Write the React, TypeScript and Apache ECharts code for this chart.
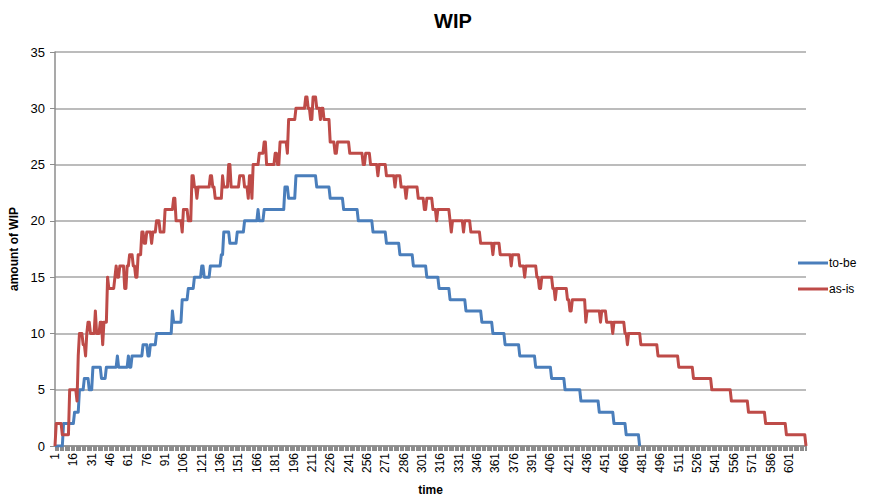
import React, { useEffect, useRef } from "react";
import * as echarts from "echarts";

// time index 1..615
const TIME_COUNT = 615;
const categories: string[] = Array.from({ length: TIME_COUNT }, (_, i) => String(i + 1));

// "to-be" series, run-length: start time index of each run and WIP level of that run
const toBeStarts = [1, 8, 17, 21, 25, 29, 32, 39, 43, 52, 53, 61, 62, 64, 73, 77, 79, 84, 97, 98, 105, 110, 115, 121, 123, 128, 137, 139, 144, 150, 156, 167, 168, 172, 189, 192, 198, 215, 226, 237, 249, 261, 272, 283, 294, 305, 315, 324, 337, 350, 359, 369, 381, 394, 407, 418, 431, 446, 458, 468, 479];
const toBeLevels = [0, 2, 3, 5, 6, 5, 7, 6, 7, 8, 7, 8, 7, 8, 9, 8, 9, 10, 12, 11, 13, 14, 15, 16, 15, 16, 17, 19, 18, 19, 20, 21, 20, 21, 23, 22, 24, 23, 22, 21, 20, 19, 18, 17, 16, 15, 14, 13, 12, 11, 10, 9, 8, 7, 6, 5, 4, 3, 2, 1, 0];
const toBeLast = 479;

// "as-is" series, run-length
const asIsStarts = [1, 2, 7, 13, 19, 20, 21, 24, 26, 27, 28, 30, 34, 35, 38, 40, 41, 44, 45, 50, 51, 52, 54, 58, 60, 62, 65, 67, 69, 72, 74, 76, 80, 81, 84, 87, 91, 98, 100, 105, 106, 110, 113, 115, 117, 118, 128, 130, 132, 138, 139, 143, 145, 152, 156, 159, 160, 162, 163, 168, 172, 174, 181, 183, 185, 191, 192, 198, 206, 208, 210, 212, 215, 218, 219, 221, 226, 230, 232, 242, 253, 255, 259, 265, 266, 272, 279, 280, 284, 288, 289, 298, 303, 305, 310, 313, 314, 324, 325, 326, 335, 336, 341, 349, 359, 360, 365, 374, 375, 381, 385, 386, 395, 397, 399, 408, 410, 411, 420, 422, 424, 435, 436, 447, 448, 452, 457, 458, 467, 469, 470, 480, 494, 511, 523, 538, 554, 568, 582, 599, 615];
const asIsLevels = [0, 2, 1, 5, 4, 8, 10, 9, 8, 10, 11, 10, 12, 10, 11, 9, 11, 15, 14, 15, 16, 15, 16, 14, 16, 17, 16, 15, 17, 19, 18, 19, 18, 19, 20, 19, 21, 22, 20, 19, 21, 20, 24, 23, 22, 23, 24, 23, 22, 24, 23, 25, 23, 24, 23, 22, 24, 22, 25, 26, 27, 25, 26, 25, 27, 26, 29, 30, 31, 30, 29, 31, 30, 29, 30, 29, 27, 26, 27, 26, 25, 26, 25, 24, 25, 24, 23, 24, 23, 22, 23, 22, 21, 22, 21, 20, 21, 20, 19, 20, 19, 20, 19, 18, 17, 18, 17, 16, 17, 16, 15, 16, 15, 14, 15, 14, 13, 14, 13, 12, 13, 11, 12, 11, 12, 11, 10, 11, 10, 9, 10, 9, 8, 7, 6, 5, 4, 3, 2, 1, 0];
const asIsLast = 615;

const yTicks = { min: 0, max: 35, step: 5 };

function expandRuns(starts: number[], levels: number[], last: number): (number | null)[] {
  const out: (number | null)[] = [];
  let k = 0;
  for (let t = 1; t <= TIME_COUNT; t++) {
    if (t > last) {
      out.push(null);
      continue;
    }
    while (k + 1 < starts.length && starts[k + 1] <= t) k++;
    out.push(levels[k]);
  }
  return out;
}

const FONT = "'Liberation Sans', Arial, sans-serif";

export default function App() {
  const ref = useRef<HTMLDivElement>(null);
  useEffect(() => {
    if (!ref.current) return;
    const chart = echarts.init(ref.current, undefined, { renderer: "svg" });
    const toBe = expandRuns(toBeStarts, toBeLevels, toBeLast);
    const asIs = expandRuns(asIsStarts, asIsLevels, asIsLast);
    chart.setOption({
      animation: false,
      textStyle: { fontFamily: FONT },
      title: {
        text: "WIP",
        left: 429,
        top: 6,
        textStyle: { fontSize: 20, fontWeight: "bold", color: "#000", fontFamily: FONT },
      },
      legend: {
        orient: "vertical",
        left: 793,
        top: 252,
        icon: "rect",
        itemWidth: 30,
        itemHeight: 3,
        itemGap: 14,
        textStyle: { fontSize: 12, color: "#000", fontFamily: FONT, padding: [0, 0, 0, -4] },
        data: ["to-be", "as-is"],
      },
      grid: { left: 55, right: 84, top: 52, bottom: 51, containLabel: false, outerBoundsMode: "none" },
      xAxis: {
        type: "category",
        data: categories,
        boundaryGap: false,
        name: "time",
        nameLocation: "middle",
        nameGap: 38,
        nameTextStyle: { fontWeight: "bold", fontSize: 12, color: "#000", fontFamily: FONT },
        axisLine: { lineStyle: { color: "#8c8c8c", width: 1.5 } },
        axisTick: { interval: 0, length: 5, lineStyle: { color: "#8c8c8c", width: 1 } },
        axisLabel: { interval: 14, rotate: 90, fontSize: 12, color: "#000", margin: 7, fontFamily: FONT },
        splitLine: { show: false },
      },
      yAxis: {
        type: "value",
        min: yTicks.min,
        max: yTicks.max,
        interval: yTicks.step,
        name: "amount of WIP",
        nameLocation: "middle",
        nameGap: 24,
        nameTextStyle: { fontWeight: "bold", fontSize: 12, color: "#000", fontFamily: FONT },
        axisLine: { show: true, lineStyle: { color: "#8c8c8c", width: 1.5 } },
        axisTick: { show: true, length: 5, lineStyle: { color: "#8c8c8c" } },
        axisLabel: { fontSize: 13, color: "#000", margin: 10, fontFamily: FONT },
        splitLine: { lineStyle: { color: "#a6a6a6", width: 1.5 } },
      },
      series: [
        {
          name: "to-be",
          type: "line",
          data: toBe,
          showSymbol: false,
          symbol: "none",
          connectNulls: false,
          lineStyle: { width: 3, color: "#4A7EBB", join: "round" },
          itemStyle: { color: "#4A7EBB" },
        },
        {
          name: "as-is",
          type: "line",
          data: asIs,
          showSymbol: false,
          symbol: "none",
          lineStyle: { width: 3, color: "#BE4B48", join: "round" },
          itemStyle: { color: "#BE4B48" },
        },
      ],
    });
    return () => chart.dispose();
  }, []);
  return (
    <div
      ref={ref}
      style={{ position: "fixed", left: 0, top: 0, width: 890, height: 497, background: "#fff" }}
    />
  );
}
